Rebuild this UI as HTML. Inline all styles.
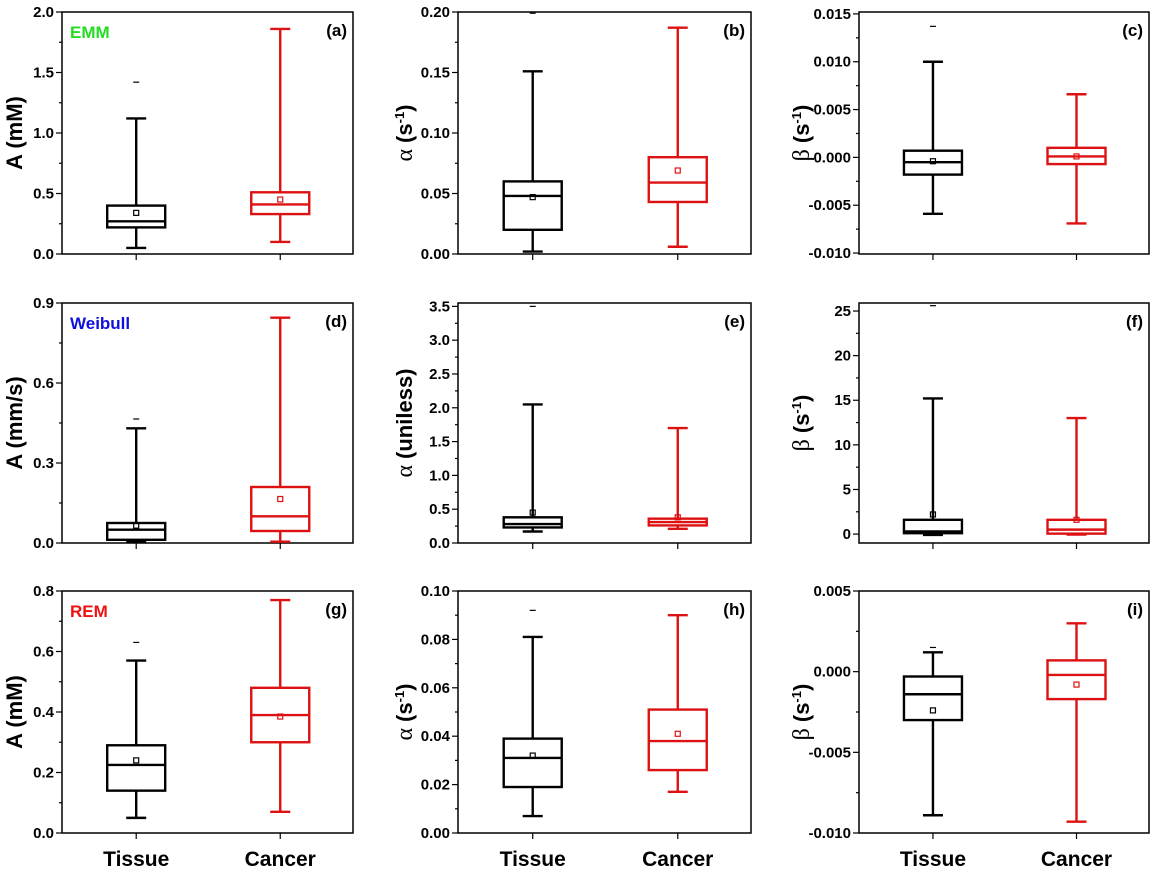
<!DOCTYPE html>
<html><head><meta charset="utf-8"><style>
body{margin:0;background:#fff;}
svg{display:block;font-family:"Liberation Sans",Arial,sans-serif;}
</style></head><body>
<svg id="fig" width="1161" height="872" viewBox="0 0 1161 872"></svg>
<script>
const categories = ["Tissue","Cancer"];
const panelLabels = ["(a)","(b)","(c)","(d)","(e)","(f)","(g)","(h)","(i)"];
const yTitles = ["A (mM)","α (s-1)","β (s-1)","A (mm/s)","α (uniless)","β (s-1)","A (mM)","α (s-1)","β (s-1)"];
const modelNames = ["EMM","Weibull","REM"];
const modelColors = ["#22dd22","#1010dd","#ee1111"];
const yMin = [0,0,-0.0101,0,0,-1,0,0,-0.01];
const yMax = [2,0.2,0.0152,0.9,3.55,25.9,0.8,0.1,0.005];
const tickStep = [0.5,0.05,0.005,0.3,0.5,5,0.2,0.02,0.005];
const tickDec = [1,2,3,1,1,0,1,2,3];
// per panel: [whiskLow, q1, median, q3, whiskHigh, mean]
const tissueStats = [
 [0.05,0.22,0.27,0.40,1.12,0.34],
 [0.002,0.020,0.048,0.060,0.151,0.047],
 [-0.0059,-0.0018,-0.0005,0.0007,0.0100,-0.0004],
 [0.005,0.012,0.05,0.075,0.43,0.065],
 [0.17,0.23,0.28,0.38,2.05,0.45],
 [-0.1,0.1,0.3,1.6,15.2,2.2],
 [0.05,0.14,0.225,0.29,0.57,0.24],
 [0.007,0.019,0.031,0.039,0.081,0.032],
 [-0.0089,-0.0030,-0.0014,-0.0003,0.0012,-0.0024]
];
const cancerStats = [
 [0.10,0.33,0.41,0.51,1.86,0.45],
 [0.006,0.043,0.059,0.080,0.187,0.069],
 [-0.0069,-0.0007,0.0001,0.0010,0.0066,0.0001],
 [0.005,0.045,0.10,0.21,0.845,0.165],
 [0.21,0.26,0.31,0.36,1.70,0.38],
 [-0.05,0.05,0.5,1.6,13.0,1.6],
 [0.07,0.30,0.39,0.48,0.77,0.385],
 [0.017,0.026,0.038,0.051,0.090,0.041],
 [-0.0093,-0.0017,-0.0002,0.0007,0.0030,-0.0008]
];
const tissueOutlier = [1.42,0.199,0.0137,0.465,3.5,25.6,0.63,0.092,0.0015];

const NS="http://www.w3.org/2000/svg";
const svg=document.getElementById('fig');
function el(tag,attrs,parent){const e=document.createElementNS(NS,tag);for(const k in attrs)e.setAttribute(k,attrs[k]);(parent||svg).appendChild(e);return e;}
const colX=[[62,353],[458,751],[859,1149]];
const rowY=[[12,254],[303,543],[591,833]];
const colors=["#000000","#dd1111"];
for(let p=0;p<9;p++){
  const r=Math.floor(p/3),c=p%3;
  const [x0,x1]=colX[c],[y0,y1]=rowY[r];
  const g=el('g',{});
  
  
  const ys=v=>y1-(v-yMin[p])/(yMax[p]-yMin[p])*(y1-y0);
  const xs=i=>x0+(x1-x0)*(i===0?0.255:0.75);
  const frame=el('rect',{x:x0,y:y0,width:x1-x0,height:y1-y0,fill:'none',stroke:'#000','stroke-width':1.5},g);
  
  
  const st=tickStep[p];
  for(let k=Math.ceil(yMin[p]/(st/2)-1e-6);k*(st/2)<=yMax[p]+1e-9;k++){
    const v=k*st/2,y=ys(v),major=(k%2===0);
    el('line',{x1:x0,x2:x0-(major?6:3),y1:y,y2:y,stroke:'#000','stroke-width':1.2},g);
    if(major){
      const t=el('text',{x:x0-8,y:y+5,'text-anchor':'end','font-size':15,'font-weight':'bold'},g);
      t.textContent=(Math.abs(v)<1e-12?0:v).toFixed(tickDec[p]);
      
      
    }
  }
  const tx=c===0?22:(c===1?x0-46:x0-50);
  const ty=(y0+y1)/2;
  const tt=el('text',{x:tx,y:ty,transform:`rotate(-90 ${tx} ${ty})`,'text-anchor':'middle','font-size':22,'font-weight':'bold'},g);
  
  
  const ttl=yTitles[p];
  if(ttl.includes('s-1')){
    const s0=el('tspan',{'font-weight':'normal','font-family':'"Liberation Serif",serif','font-size':24},tt);s0.textContent=ttl[0]+' ';
    const s1=el('tspan',{},tt);s1.textContent='(s';
    const s2=el('tspan',{dy:-8,'font-size':13},tt);s2.textContent='-1';
    const s3=el('tspan',{dy:8},tt);s3.textContent=')';
  } else if(ttl[0]==='α'){
    const s0=el('tspan',{'font-weight':'normal','font-family':'"Liberation Serif",serif','font-size':24},tt);s0.textContent='α ';
    const s1=el('tspan',{},tt);s1.textContent=ttl.slice(2);
  } else tt.textContent=ttl;
  const pl=el('text',{x:x1-6,y:y0+24,'text-anchor':'end','font-size':17,'font-weight':'bold'},g);
  pl.textContent=panelLabels[p];
  
  
  if(c===0){
    const mn=el('text',{x:x0+8,y:y0+26,'font-size':17,'font-weight':'bold',fill:modelColors[r]},g);
    mn.textContent=modelNames[r];
    
    
  }
  [tissueStats[p],cancerStats[p]].forEach((s,i)=>{
    const cx=xs(i),col=colors[i],hw=29;
    el('line',{x1:cx,x2:cx,y1:y1,y2:y1+6,stroke:'#000','stroke-width':1.2},g);
    const bg=el('g',{stroke:col,fill:'none','stroke-width':2.4},g);
    
    
    el('line',{x1:cx,x2:cx,y1:ys(s[0]),y2:ys(s[1])},bg);
    el('line',{x1:cx,x2:cx,y1:ys(s[3]),y2:ys(s[4])},bg);
    el('line',{x1:cx-10,x2:cx+10,y1:ys(s[0]),y2:ys(s[0])},bg);
    el('line',{x1:cx-10,x2:cx+10,y1:ys(s[4]),y2:ys(s[4])},bg);
    el('rect',{x:cx-hw,y:ys(s[3]),width:2*hw,height:Math.max(1,ys(s[1])-ys(s[3])),fill:'#fff'},bg);
    el('line',{x1:cx-hw,x2:cx+hw,y1:ys(s[2]),y2:ys(s[2])},bg);
    el('rect',{x:cx-2.5,y:ys(s[5])-2.5,width:5,height:5,'stroke-width':1.2},bg);
    if(i===0){
      el('line',{x1:cx-3,x2:cx+3,y1:ys(tissueOutlier[p]),y2:ys(tissueOutlier[p]),'stroke-width':1.2},bg);
    }
    if(r===2){
      const xl=el('text',{x:cx,y:866,'text-anchor':'middle','font-size':21,'font-weight':'bold'},g);
      xl.textContent=categories[i];
      
      
    }
  });
}
</script>
</body></html>
